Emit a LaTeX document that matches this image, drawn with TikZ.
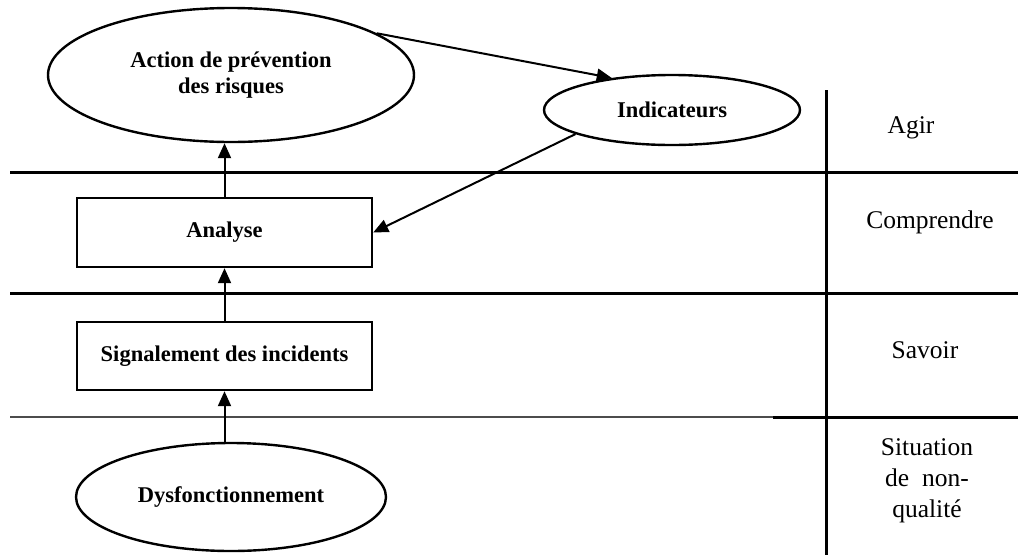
\documentclass[tikz,border=0pt]{standalone}
\usepackage{fontspec}
\setmainfont{Liberation Serif}
\usetikzlibrary{shapes.geometric,arrows.meta}
\begin{document}
\begin{tikzpicture}[x=1pt,y=-1pt,
  nodetext/.style={font=\bfseries\fontsize{22.5}{26}\selectfont, align=center, inner sep=0pt},
  ell/.style={nodetext, ellipse, draw, line width=2.4pt},
  box/.style={nodetext, rectangle, draw, line width=2.4pt},
  lab/.style={font=\fontsize{25.5}{31}\selectfont, align=center, inner sep=0pt},
  sep/.style={line width=3pt},
  arr/.style={line width=2pt, -{Triangle[length=15pt,width=13pt]}}]
\useasboundingbox (0,0) rectangle (1018,555);
% separators
\draw[sep] (10,172) -- (1018,172);
\draw[sep] (10,293) -- (1018,293);
\draw[line width=1.8pt, black!70] (10,417) -- (773,417);
\draw[sep] (773,417) -- (1018,417);
\draw[sep] (826,90) -- (826,555);
% nodes
\node[ell, minimum width=366pt, minimum height=134pt] (act) at (231,75) {Action de prévention\\des risques};
\node[ell, minimum width=256pt, minimum height=70pt] (ind) at (672,110) {Indicateurs};
\node[box, minimum width=295pt, minimum height=69pt] (an) at (224.5,232.5) {Analyse};
\node[box, minimum width=295pt, minimum height=68pt] (sig) at (224.5,356) {Signalement des incidents};
\node[ell, minimum width=310pt, minimum height=108pt] (dys) at (231,497) {Dysfonctionnement};
% labels
\node[lab] (agir) at (911,128) {Agir};
\node[lab] (comp) at (930,222) {Comprendre};
\node[lab] (sav) at (925,350) {Savoir};
\node[lab] (sit) at (927,481) {Situation\\de~~non-\\qualité};
% connectors
\draw[arr] (an.north) -- (an.north |- act.south);
\draw[arr] (sig.north) -- (an.south);
\draw[arr] (sig.south |- dys.north) -- (sig.south);
\draw[arr] (act.16) -- (ind.152);
\draw[arr] (ind.194) -- (an.east);
\end{tikzpicture}
\end{document}
